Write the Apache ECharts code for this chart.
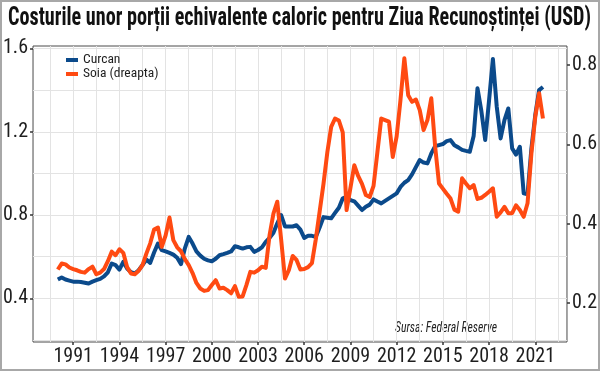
<!DOCTYPE html>
<html><head><meta charset="utf-8">
<script src="https://cdn.jsdelivr.net/npm/echarts@6/dist/echarts.min.js"></script>
<style>html,body{margin:0;padding:0;background:#fff}#c{width:600px;height:371px}</style>
</head><body><div id="c"></div>
<script>
// ---------- data ----------
const startYear = 1990;            // first value = 1990 Q1, quarterly
const seriesNames = ['Curcan', 'Soia (dreapta)'];
const xTickYears = [1991, 1994, 1997, 2000, 2003, 2006, 2009, 2012, 2015, 2018, 2021];
const xGridYears = [1989.5, 1991, 1992.5, 1994, 1995.5, 1997, 1998.5, 2000, 2001.5, 2003, 2004.5, 2006, 2007.5, 2009, 2010.5, 2012, 2013.5, 2015, 2016.5, 2018, 2019.5, 2021, 2022.5];
const leftTicks = [0.4, 0.8, 1.2, 1.6];
const leftGrid = [0.2, 0.4, 0.6, 0.8, 1.0, 1.2, 1.4, 1.6];
const rightTicks = [0.2, 0.4, 0.6, 0.8];

// Curcan (turkey), left axis, USD
const turkey = [
  0.49, 0.50, 0.49, 0.485,     // 1990
  0.48, 0.48, 0.478, 0.475,    // 1991
  0.471, 0.48, 0.487, 0.493,   // 1992
  0.505, 0.525, 0.567, 0.559,  // 1993
  0.538, 0.575, 0.543, 0.525,  // 1994
  0.519, 0.535, 0.56, 0.586,   // 1995
  0.57, 0.62, 0.663, 0.631,    // 1996
  0.625, 0.618, 0.61, 0.595,   // 1997
  0.564, 0.64, 0.695, 0.663,   // 1998
  0.625, 0.605, 0.59, 0.582,   // 1999
  0.578, 0.59, 0.607, 0.612,   // 2000
  0.618, 0.625, 0.65, 0.645,   // 2001
  0.639, 0.645, 0.647, 0.623,  // 2002
  0.632, 0.645, 0.671, 0.69,   // 2003
  0.715, 0.76, 0.80, 0.745,    // 2004
  0.745, 0.745, 0.751, 0.73,   // 2005
  0.69, 0.70, 0.70, 0.695,     // 2006
  0.74, 0.79, 0.787, 0.784,    // 2007
  0.81, 0.835, 0.88, 0.887,    // 2008
  0.872, 0.866, 0.845, 0.824,  // 2009
  0.84, 0.85, 0.875, 0.865,    // 2010
  0.856, 0.868, 0.88, 0.892,   // 2011
  0.904, 0.935, 0.955, 0.968,  // 2012
  0.995, 1.03, 1.064, 1.052,   // 2013
  1.048, 1.096, 1.131, 1.136,  // 2014
  1.141, 1.155, 1.16, 1.135,   // 2015
  1.125, 1.113, 1.108, 1.104,  // 2016
  1.18, 1.409, 1.30, 1.16,     // 2017
  1.35, 1.55, 1.32, 1.168,     // 2018
  1.256, 1.312, 1.12, 1.09,    // 2019
  1.128, 0.904, 0.90, 1.12,    // 2020
  1.28, 1.40, 1.415            // 2021
];

// Soia (soy), right axis, USD
const soy = [
  0.284, 0.299, 0.297, 0.289,  // 1990
  0.285, 0.282, 0.278, 0.276,  // 1991
  0.285, 0.291, 0.272, 0.276,  // 1992
  0.285, 0.305, 0.329, 0.32,   // 1993
  0.335, 0.326, 0.29, 0.274,   // 1994
  0.272, 0.281, 0.295, 0.324,  // 1995
  0.35, 0.385, 0.39, 0.341,    // 1996
  0.37, 0.415, 0.358, 0.34,    // 1997
  0.33, 0.31, 0.295, 0.275,    // 1998
  0.25, 0.236, 0.23, 0.232,    // 1999
  0.245, 0.257, 0.236, 0.238,  // 2000
  0.232, 0.224, 0.242, 0.215,  // 2001
  0.216, 0.245, 0.278, 0.276,  // 2002
  0.282, 0.291, 0.288, 0.371,  // 2003
  0.425, 0.455, 0.36, 0.261,   // 2004
  0.282, 0.318, 0.308, 0.284,  // 2005
  0.285, 0.29, 0.30, 0.36,     // 2006
  0.43, 0.50, 0.58, 0.644,     // 2007
  0.665, 0.66, 0.63, 0.434,    // 2008
  0.49, 0.547, 0.52, 0.50,     // 2009
  0.472, 0.467, 0.495, 0.58,   // 2010
  0.665, 0.661, 0.657, 0.568,  // 2011
  0.62, 0.712, 0.817, 0.724,   // 2012
  0.707, 0.713, 0.686, 0.636,  // 2013
  0.661, 0.716, 0.594, 0.501,  // 2014
  0.488, 0.475, 0.463, 0.435,  // 2015
  0.430, 0.514, 0.501, 0.489,  // 2016
  0.497, 0.462, 0.465, 0.472,  // 2017
  0.48, 0.489, 0.417, 0.428,   // 2018
  0.442, 0.426, 0.426, 0.446,  // 2019
  0.434, 0.417, 0.451, 0.577,  // 2020
  0.669, 0.729, 0.665          // 2021
];

const titleText = 'Costurile unor porții echivalente caloric pentru Ziua Recunoștinței (USD)';
const sourceText = 'Sursa: Federal Reserve';

// ---------- fonts ----------
const FF = '"Liberation Sans Narrow", "Roboto Condensed", "DejaVu Sans Condensed", "Liberation Sans", sans-serif';
const mctx = document.createElement('canvas').getContext('2d');
function tw(font, text) { mctx.font = font; return mctx.measureText(text).width; }
const axisFS = 20;
const legFS = 13.5;
const titleFont = 'bold 25px ' + FF;
const titleScale = Math.min(1, 583 / tw(titleFont, titleText));
const srcFont = 'italic 14px ' + FF;
const srcScale = 102 / tw(srcFont, sourceText);

// ---------- chart ----------
const BLUE = '#0b4a8b', ORANGE = '#ff4a12', TXT = '#1e1e1e';
const X_MIN = 1988.39, X_MAX = 2023.06;
const L_MIN = 0.19, L_MAX = 1.612;
const R_MIN = 0.101, R_MAX = 0.848;

const chart = echarts.init(document.getElementById('c'), null, { renderer: 'canvas' });
chart.setOption({
  animation: false,
  backgroundColor: '#fff',
  grid: { left: 33, right: 32, top: 46, bottom: 29, show: true, borderColor: '#4a4a4a', borderWidth: 1, backgroundColor: 'transparent' },
  legend: {
    orient: 'vertical', left: 66, top: 53, padding: 0, itemGap: 0,
    itemWidth: 12, itemHeight: 4, icon: 'rect',
    textStyle: { fontSize: legFS, fontFamily: FF, color: TXT, lineHeight: 14 },
    data: seriesNames
  },
  xAxis: [
    {
      type: 'value', min: X_MIN, max: X_MAX,
      axisLine: { show: false },
      axisTick: { show: true, customValues: xTickYears, length: 3, lineStyle: { color: '#333', width: 1.5 } },
      axisLabel: { customValues: xTickYears, formatter: v => String(Math.round(v)), fontSize: axisFS, fontFamily: FF, color: TXT, margin: 5 },
      splitLine: { show: false }
    },
    {
      type: 'value', min: X_MIN, max: X_MAX, position: 'top',
      axisLine: { show: false },
      axisTick: { show: false, customValues: xGridYears },
      axisLabel: { show: false },
      splitLine: { show: true, lineStyle: { color: '#e3e3e3', width: 1 } }
    }
  ],
  yAxis: [
    {
      type: 'value', position: 'left', min: L_MIN, max: L_MAX,
      axisLine: { show: false },
      axisTick: { show: true, customValues: leftTicks, length: 3, lineStyle: { color: '#333', width: 1.5 } },
      axisLabel: { customValues: leftTicks, formatter: v => v.toFixed(1), fontSize: axisFS, fontFamily: FF, color: TXT, margin: 5 },
      splitLine: { show: false }
    },
    {
      type: 'value', position: 'right', min: R_MIN, max: R_MAX,
      axisLine: { show: false },
      axisTick: { show: true, customValues: rightTicks, length: 3, lineStyle: { color: '#333', width: 1.5 } },
      axisLabel: { customValues: rightTicks, formatter: v => v.toFixed(1), fontSize: axisFS, fontFamily: FF, color: TXT, margin: 5 },
      splitLine: { show: false }
    },
    {
      type: 'value', position: 'left', min: L_MIN, max: L_MAX,
      axisLine: { show: false },
      axisTick: { show: false, customValues: leftGrid },
      axisLabel: { show: false },
      splitLine: { show: true, lineStyle: { color: '#e3e3e3', width: 1 } }
    }
  ],
  series: [
    {
      name: seriesNames[0], type: 'line', xAxisIndex: 0, yAxisIndex: 0,
      data: turkey.map((v, i) => [startYear + i / 4, v]),
      showSymbol: false, symbol: 'none', smooth: false,
      lineStyle: { color: BLUE, width: 4, join: 'round' },
      itemStyle: { color: BLUE }, z: 3
    },
    {
      name: seriesNames[1], type: 'line', xAxisIndex: 0, yAxisIndex: 1,
      data: soy.map((v, i) => [startYear + i / 4, v]),
      showSymbol: false, symbol: 'none', smooth: false,
      lineStyle: { color: ORANGE, width: 4, join: 'round' },
      itemStyle: { color: ORANGE }, z: 4
    }
  ],
  graphic: [
    { type: 'rect', silent: true, shape: { x: 1, y: 1, width: 598, height: 369 }, style: { fill: 'none', stroke: '#a8a8a8', lineWidth: 2 } },
    { type: 'text', silent: true, x: 8, y: 19, scaleX: titleScale, style: { text: titleText, font: titleFont, fill: '#111', align: 'left', verticalAlign: 'middle', textAlign: 'left', textVerticalAlign: 'middle' } },
    { type: 'text', silent: true, x: 395, y: 328, scaleX: srcScale, style: { text: sourceText, font: srcFont, fill: '#222', align: 'left', verticalAlign: 'middle', textAlign: 'left', textVerticalAlign: 'middle' } }
  ]
});
</script>
</body></html>
